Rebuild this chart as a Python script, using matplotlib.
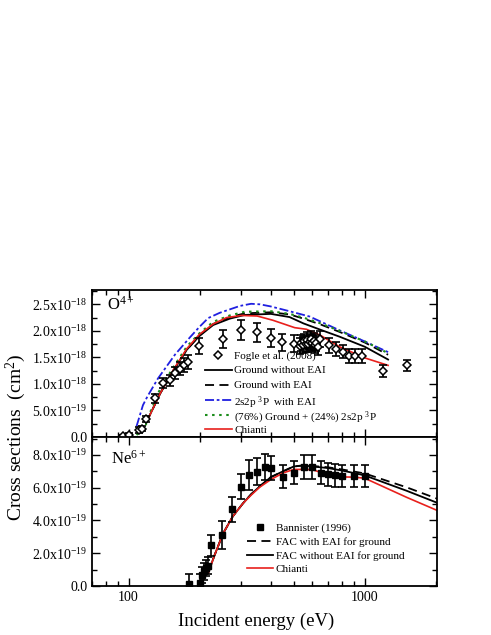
#!/usr/bin/env python3
"""
Electron-impact ionization cross sections for O4+ and Ne6+ (two stacked panels).
"""

import matplotlib
matplotlib.use("Agg")
import matplotlib.pyplot as plt
from matplotlib.ticker import FixedLocator, FuncFormatter, LogLocator, NullFormatter

# ---- O4+ panel (cross sections in units of 1e-18 cm^2) ----
fogle_e = [95, 100, 111, 114, 119, 129, 140, 150, 157, 165, 172, 179, 199, 250, 300, 350, 402, 448, 502,
           530, 538, 546, 553, 561, 568, 576, 584, 592, 600, 608, 616, 624, 632,
           646, 705, 755, 805, 855, 910, 975, 1193, 1503]
fogle_s = [0.01, 0.04, 0.13, 0.16, 0.34, 0.73, 1.02, 1.07, 1.20, 1.29, 1.36, 1.42, 1.72, 1.85, 2.02, 1.97, 1.86, 1.79, 1.76,
           1.72, 1.78, 1.74, 1.80, 1.76, 1.83, 1.75, 1.79, 1.84, 1.77, 1.81, 1.73, 1.78, 1.70,
           1.84, 1.73, 1.66, 1.61, 1.53, 1.53, 1.53, 1.25, 1.35]
fogle_err = [0.03, 0.04, 0.05, 0.05, 0.06, 0.08, 0.10, 0.10, 0.11, 0.12, 0.13, 0.13, 0.15, 0.17, 0.19, 0.18, 0.17, 0.16, 0.16,
             0.15, 0.15, 0.15, 0.15, 0.15, 0.15, 0.15, 0.15, 0.15, 0.15, 0.15, 0.15, 0.15, 0.15,
             0.15, 0.14, 0.13, 0.13, 0.13, 0.13, 0.13, 0.11, 0.11]

gnd_e = [119, 136, 155, 176, 199, 228, 268, 310, 400, 480, 550, 650, 782, 1000, 1254]
gnd_noeai = [0.28, 0.82, 1.26, 1.64, 1.90, 2.11, 2.23, 2.30, 2.32, 2.26, 2.14, 2.02, 1.89, 1.70, 1.46]
gnd_eai = [0.28, 0.82, 1.26, 1.64, 1.91, 2.13, 2.26, 2.33, 2.35, 2.31, 2.23, 2.12, 1.98, 1.78, 1.55]

met_e = [108, 115, 120, 133, 157, 182, 199, 217, 243, 296, 330, 360, 400, 480, 584, 782, 1000, 1254]
met_eai = [0.20, 0.60, 0.76, 1.10, 1.55, 1.88, 2.07, 2.24, 2.34, 2.47, 2.51, 2.50, 2.46, 2.37, 2.27, 2.01, 1.80, 1.60]

mix_e = [108, 112, 118, 119, 136, 155, 176, 199, 228, 268, 310, 400, 480, 550, 650, 782, 1000, 1254]
mix_s = [0.04, 0.10, 0.17, 0.30, 0.91, 1.32, 1.70, 1.95, 2.17, 2.29, 2.36, 2.37, 2.32, 2.25, 2.14, 2.00, 1.80, 1.58]

chianti_o_e = [119, 136, 155, 176, 199, 228, 260, 300, 350, 408, 505, 566, 646, 782, 1000, 1254]
chianti_o = [0.28, 0.82, 1.27, 1.66, 1.93, 2.13, 2.25, 2.29, 2.28, 2.20, 2.06, 2.03, 1.92, 1.70, 1.49, 1.35]

# ---- Ne6+ panel (cross sections in units of 1e-19 cm^2) ----
ban_e = [180, 200, 205, 209, 212, 217, 224, 249, 275, 300, 323, 350, 377, 400, 451, 502, 551, 598, 652, 700, 747, 800, 900, 1000]
ban_s = [0.12, 0.16, 0.67, 0.89, 1.10, 1.25, 2.48, 3.11, 4.69, 6.07, 6.77, 6.99, 7.27, 7.21, 6.66, 6.93, 7.27, 7.27, 6.91, 6.83,
         6.77, 6.71, 6.71, 6.71]
ban_err = [0.60, 0.60, 0.50, 0.50, 0.50, 0.50, 0.63, 0.85, 0.76, 0.74, 0.90, 0.85, 0.80, 0.75, 0.70, 0.72, 0.75, 0.75, 0.70, 0.70,
           0.70, 0.68, 0.68, 0.68]

fac_e = [217, 230, 251, 276, 305, 330, 360, 400, 450, 500, 550, 600, 700, 800, 900, 1000, 1500, 2050]
fac_noeai = [0.77, 1.80, 3.20, 4.25, 5.05, 5.60, 6.10, 6.65, 7.00, 7.30, 7.36, 7.30, 7.20, 7.05, 6.90, 6.75, 5.82, 5.05]
fac_eai = [0.77, 1.80, 3.20, 4.25, 5.05, 5.60, 6.10, 6.65, 7.00, 7.30, 7.37, 7.33, 7.25, 7.12, 6.99, 6.87, 6.03, 5.30]
chianti_ne = [0.77, 1.80, 3.20, 4.25, 5.05, 5.55, 6.05, 6.50, 6.90, 7.12, 7.12, 7.10, 6.80, 6.66, 6.65, 6.58, 5.42, 4.58]

o_labels = ["Fogle et al. (2008)", "Ground without EAI", "Ground with EAI", "2s2p $^3$P  with EAI",
            "(76%) Ground + (24%) 2s2p $^3$P", "Chianti"]
ne_labels = ["Bannister (1996)", "FAC with EAI for ground", "FAC without EAI for ground", "Chianti"]

SERIF = "Liberation Serif"

# line styles shared by the curves and the hand-drawn keys
SOLID = dict(color="black", lw=1.3, ls="-")
DASHED = dict(color="black", lw=1.3, ls=(0, (5, 3)))
DASHDOT = dict(color="#1f1fe0", lw=1.3, ls=(0, (5, 1.5, 1.5, 1.5)))
DOTTED = dict(color="#1a8c1a", lw=1.5, ls=(0, (1.2, 2.2)))
RED = dict(color="#e8201c", lw=1.2, ls="-")
DIAMOND = dict(ls="none", marker="D", ms=4.5, mfc="white", mec="black", mew=1.1)
SQUARE = dict(ls="none", marker="s", ms=5, color="black")


def sci_label(v, _pos):
    if v == 0:
        return "0.0"
    mant, exp = f"{v:.1e}".split("e")
    return f"{mant}x10$^{{{int(exp)}}}$"


def style_axis(ax, ymax, major, minor):
    ax.set_xscale("log")
    ax.set_xlim(70, 2020)
    ax.set_ylim(0, ymax)
    ax.xaxis.set_major_locator(FixedLocator([100, 1000]))
    ax.xaxis.set_minor_locator(LogLocator(base=10, subs=range(2, 10)))
    ax.xaxis.set_minor_formatter(NullFormatter())
    ax.yaxis.set_major_locator(FixedLocator(major))
    ax.yaxis.set_minor_locator(FixedLocator(minor))
    ax.yaxis.set_major_formatter(FuncFormatter(sci_label))
    ax.tick_params(which="both", direction="in", top=True, right=True, labelsize=10, width=1.0)
    ax.tick_params(which="major", length=6)
    ax.tick_params(which="minor", length=3.5)
    for s in ax.spines.values():
        s.set_linewidth(1.3)


def draw_key(ax, styles, labels, x0, x1, rows):
    # hand-made legend so that the rows are evenly spaced like the original
    for st, lab, y in zip(styles, labels, rows):
        if st.get("ls") == "none":
            ax.plot([(x0 + x1) / 2], [y], transform=ax.transAxes, clip_on=False, **st)
        else:
            ax.plot([x0, x1], [y, y], transform=ax.transAxes, clip_on=False, **st)
        ax.text(x1 + 0.006, y, lab, transform=ax.transAxes, fontsize=8, ha="left", va="center_baseline")


def main():
    plt.rcParams["font.family"] = [SERIF, "DejaVu Serif"]
    plt.rcParams["mathtext.fontset"] = "custom"
    plt.rcParams["mathtext.rm"] = SERIF
    plt.rcParams["mathtext.it"] = SERIF + ":italic"

    fig = plt.figure(figsize=(4.91, 6.35), dpi=100)
    ax1 = fig.add_axes([0.1874, 0.3118, 0.7026, 0.2315])
    ax2 = fig.add_axes([0.1874, 0.0772, 0.7026, 0.2346])

    # upper panel: O4+
    s = 1e-18
    ax1.plot(gnd_e, [v * s for v in gnd_noeai], **SOLID)
    ax1.plot(gnd_e, [v * s for v in gnd_eai], **DASHED)
    ax1.plot(met_e, [v * s for v in met_eai], **DASHDOT)
    ax1.plot(mix_e, [v * s for v in mix_s], **DOTTED)
    ax1.plot(chianti_o_e, [v * s for v in chianti_o], **RED)
    ax1.errorbar(fogle_e, [v * s for v in fogle_s], yerr=[v * s for v in fogle_err], fmt="none",
                 ecolor="black", elinewidth=1.2, capsize=3, capthick=1.2, zorder=3)
    ax1.plot(fogle_e, [v * s for v in fogle_s], zorder=4, **DIAMOND)
    style_axis(ax1, 2.77e-18, [i * 0.5e-18 for i in range(6)], [i * 0.25e-18 for i in range(12)])
    ax1.tick_params(labelbottom=False)
    ax1.text(81, 2.5e-18, "O$^{4+}$", fontsize=12, ha="left", va="center")
    draw_key(ax1, [DIAMOND, SOLID, DASHED, DASHDOT, DOTTED, RED], o_labels, 0.3275, 0.4058,
             [0.558, 0.456, 0.354, 0.252, 0.150, 0.054])

    # lower panel: Ne6+
    s = 1e-19
    ax2.plot(fac_e, [v * s for v in fac_eai], **DASHED)
    ax2.plot(fac_e, [v * s for v in fac_noeai], **SOLID)
    ax2.plot(fac_e, [v * s for v in chianti_ne], **RED)
    ax2.errorbar(ban_e, [v * s for v in ban_s], yerr=[v * s for v in ban_err], fmt="none",
                 ecolor="black", elinewidth=1.2, capsize=3, capthick=1.2, zorder=3)
    ax2.plot(ban_e, [v * s for v in ban_s], zorder=4, **SQUARE)
    style_axis(ax2, 9.1e-19, [i * 2e-19 for i in range(5)], [i * 1e-19 for i in range(10)])
    ax2.set_xticklabels(["100", "1000"])
    ax2.text(84, 7.8e-19, "Ne$^{6+}$", fontsize=12, ha="left", va="center")
    draw_key(ax2, [SQUARE, DASHED, SOLID, RED], ne_labels, 0.448, 0.526, [0.394, 0.302, 0.208, 0.119])

    fig.text(0.032, 0.312, "Cross sections  (cm$^2$)", rotation=90, ha="center", va="center", fontsize=14)
    fig.text(0.522, 0.021, "Incident energy (eV)", ha="center", va="center", fontsize=13.5)

    fig.savefig("out.png", dpi=100)
    plt.close(fig)
    return 0


if __name__ == "__main__":
    raise SystemExit(main())
